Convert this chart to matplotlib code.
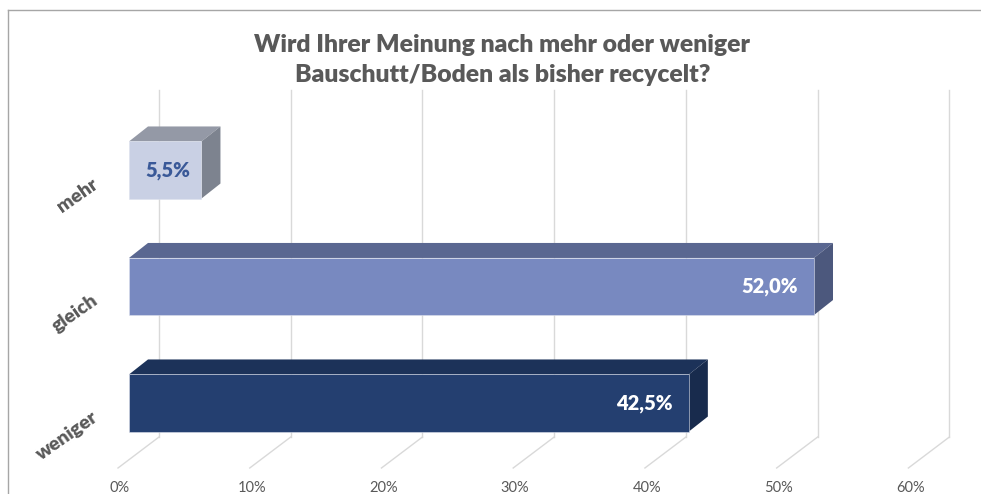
import numpy as np
import matplotlib
matplotlib.use('Agg')
import matplotlib.pyplot as plt
from matplotlib.patches import Polygon
from matplotlib.lines import Line2D

# data
categories = ['weniger', 'gleich', 'mehr']
values = [42.5, 52.0, 5.5]
value_labels = ['42,5%', '52,0%', '5,5%']
ticks = [0, 10, 20, 30, 40, 50, 60]
tick_labels = ['0%', '10%', '20%', '30%', '40%', '50%', '60%']
title = 'Wird Ihrer Meinung nach mehr oder weniger\nBauschutt/Boden als bisher recycelt?'

front_cols = ['#243F70', '#7889C0', '#C9D0E4']
top_cols = ['#1C3259', '#5A6791', '#9499A6']
side_cols = ['#182B4D', '#4C587D', '#7D838F']
label_cols = ['white', 'white', '#3A5998']

plt.rcParams['font.family'] = ['Lato', 'DejaVu Sans']

W, H = 981, 494
fig = plt.figure(figsize=(W / 100, H / 100), dpi=100)
ax = fig.add_axes([0, 0, 1, 1])

# pixel scale of the front plane of the bars
px_x = 13.173   # px per percent
px_y = 116.5    # px per category step
x0_px, y0_px = 129, 403
ax.set_xlim(-x0_px / px_x, (W - x0_px) / px_x)
ax.set_ylim((y0_px - H) / px_y, y0_px / px_y)
ax.axis('off')

def dx(p):
    return p / px_x

def dy(p):
    return p / px_y

# back wall gridlines + floor lines
wall_bot = dy(-34)
wall_top = dy(313)
floor_y = dy(-65)
for t in ticks:
    xb = t + dx(30)
    xf = t + dx(-11)
    ax.plot([xb, xb], [wall_bot, wall_top], color='#D9D9D9', lw=1, zorder=1)
    ax.plot([xf, xb], [floor_y, wall_bot], color='#D9D9D9', lw=1, zorder=1)

# bars with fake depth
h = 0.49
bdx, bdy = dx(19), dy(15)
ypos = np.arange(len(categories))
ax.barh(ypos, values, height=h, color=front_cols, edgecolor='#DDE1EC', linewidth=0.4, zorder=3)
for y, v, ct, cs in zip(ypos, values, top_cols, side_cols):
    top = [(0, y + h / 2), (v, y + h / 2), (v + bdx, y + h / 2 + bdy), (bdx, y + h / 2 + bdy)]
    side = [(v, y - h / 2), (v, y + h / 2), (v + bdx, y + h / 2 + bdy), (v + bdx, y - h / 2 + bdy)]
    ax.add_patch(Polygon(top, closed=True, facecolor=ct, edgecolor='none', zorder=2))
    ax.add_patch(Polygon(side, closed=True, facecolor=cs, edgecolor='none', zorder=2))

# value labels
for y, v, lab, c in zip(ypos, values, value_labels, label_cols):
    if v > 20:
        ax.text(v - dx(16), y, lab, ha='right', va='center', color=c,
                fontsize=14.5, fontweight='heavy', zorder=4)
    else:
        ax.text(v / 2 + dx(3), y, lab, ha='center', va='center', color=c,
                fontsize=14.5, fontweight='heavy', zorder=4)

# category labels
for y, cat in zip(ypos, categories):
    ax.text(dx(-33), y - dy(12), cat, rotation=35, rotation_mode='anchor',
            ha='right', va='center', color='#595959', fontsize=14, fontweight='heavy')

# tick labels
for t, lab in zip(ticks, tick_labels):
    ax.text(t + dx(-9), dy(-85), lab, ha='center', va='center', color='#595959', fontsize=10.5)

fig.text(0.512, 1 - 60 / H, title, ha='center', va='center', color='#595959',
         fontsize=17.8, fontweight='heavy', linespacing=1.4)

# chart border
fig.add_artist(Line2D([8 / W, 8 / W], [0, 1 - 10 / H], color='#A6A6A6', lw=1))
fig.add_artist(Line2D([8 / W, 1], [1 - 10 / H, 1 - 10 / H], color='#A6A6A6', lw=1))

fig.savefig('out.png', dpi=100, facecolor='white')
